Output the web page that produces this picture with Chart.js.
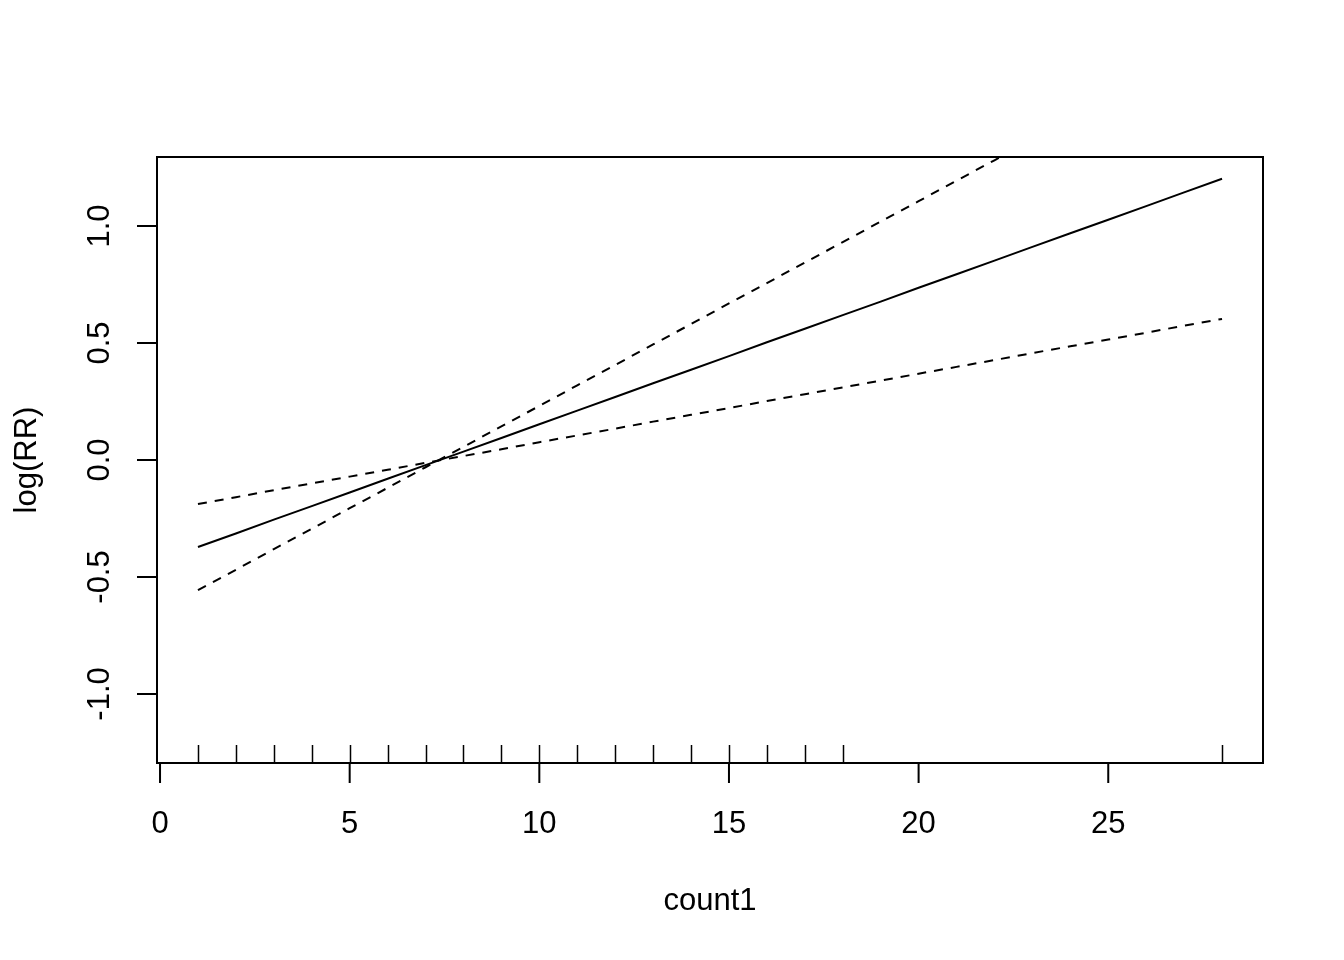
<!DOCTYPE html>
<html>
<head>
<meta charset="utf-8">
<title>log(RR) vs count1</title>
<script src="https://cdn.jsdelivr.net/npm/chart.js@4/dist/chart.umd.min.js"></script>
<style>
    html, body { margin: 0; padding: 0; background: #fff; }
    canvas { display: block; }
</style>
</head>
<body>
<canvas id="rr-chart" width="1344" height="960"></canvas>
<script>
// values
const count1 = [1, 2, 3, 4, 5, 6, 7, 8, 9, 10, 11, 12, 13, 14, 15, 16, 17, 18, 19, 20, 21, 22, 23, 24, 25, 26, 27, 28];
const logRR = [-0.372, -0.314, -0.255, -0.197, -0.139, -0.080, -0.022, 0.036, 0.094, 0.153, 0.211, 0.269, 0.328, 0.386,
    0.444, 0.503, 0.561, 0.619, 0.677, 0.736, 0.794, 0.852, 0.911, 0.969, 1.027, 1.085, 1.144, 1.202];
const upperCI = [-0.556, -0.469, -0.381, -0.294, -0.206, -0.119, -0.031, 0.056, 0.144, 0.231, 0.319, 0.406, 0.494, 0.581,
    0.669, 0.756, 0.844, 0.931, 1.019, 1.106, 1.194, 1.281, 1.369, 1.456, 1.544, 1.631, 1.719, 1.806];
const lowerCI = [-0.188, -0.159, -0.129, -0.100, -0.071, -0.042, -0.012, 0.017, 0.046, 0.076, 0.105, 0.134, 0.164, 0.193,
    0.222, 0.252, 0.281, 0.310, 0.339, 0.369, 0.398, 0.427, 0.457, 0.486, 0.515, 0.544, 0.574, 0.603];
// observed values shown as rug marks
const rugValues = [1, 2, 3, 4, 5, 6, 7, 8, 9, 10, 11, 12, 13, 14, 15, 16, 17, 18, 28];
const xTicks = [0, 5, 10, 15, 20, 25];
const yTicks = [-1.0, -0.5, 0.0, 0.5, 1.0];

const FONT = '31px "Liberation Sans", Arial, sans-serif';

function toPoints(ys) {
    return count1.map((x, i) => ({ x: x, y: ys[i] }));
}

// R-style box, axes, rug and titles
const baseAxes = {
    id: 'baseAxes',
    afterDraw(chart) {
        const ctx = chart.ctx;
        const area = chart.chartArea;
        const xs = chart.scales.x;
        const ys = chart.scales.y;

        ctx.save();
        ctx.strokeStyle = '#000';
        ctx.fillStyle = '#000';
        ctx.lineWidth = 2;
        ctx.strokeRect(area.left, area.top, area.right - area.left, area.bottom - area.top);

        // x axis
        ctx.beginPath();
        ctx.moveTo(xs.getPixelForValue(xTicks[0]), area.bottom);
        ctx.lineTo(xs.getPixelForValue(xTicks[xTicks.length - 1]), area.bottom);
        xTicks.forEach(v => {
            const px = xs.getPixelForValue(v);
            ctx.moveTo(px, area.bottom);
            ctx.lineTo(px, area.bottom + 20);
        });
        ctx.stroke();

        ctx.font = FONT;
        ctx.textAlign = 'center';
        ctx.textBaseline = 'middle';
        xTicks.forEach(v => {
            ctx.fillText(String(v), xs.getPixelForValue(v), area.bottom + 61);
        });

        // y axis
        ctx.beginPath();
        ctx.moveTo(area.left, ys.getPixelForValue(yTicks[0]));
        ctx.lineTo(area.left, ys.getPixelForValue(yTicks[yTicks.length - 1]));
        yTicks.forEach(v => {
            const py = ys.getPixelForValue(v);
            ctx.moveTo(area.left, py);
            ctx.lineTo(area.left - 20, py);
        });
        ctx.stroke();

        yTicks.forEach(v => {
            ctx.save();
            ctx.translate(area.left - 57, ys.getPixelForValue(v));
            ctx.rotate(-Math.PI / 2);
            ctx.fillText(v.toFixed(1), 0, 0);
            ctx.restore();
        });

        // rug
        ctx.lineWidth = 1.5;
        ctx.beginPath();
        rugValues.forEach(v => {
            const px = Math.round(xs.getPixelForValue(v)) + 0.5;
            ctx.moveTo(px, area.bottom);
            ctx.lineTo(px, area.bottom - 18);
        });
        ctx.stroke();

        // axis titles
        ctx.fillText('count1', (area.left + area.right) / 2, area.bottom + 138);
        ctx.save();
        ctx.translate(area.left - 130, (area.top + area.bottom) / 2);
        ctx.rotate(-Math.PI / 2);
        ctx.fillText('log(RR)', 0, 0);
        ctx.restore();

        ctx.restore();
    }
};

const ctx = document.getElementById('rr-chart').getContext('2d');

new Chart(ctx, {
    type: 'line',
    data: {
        datasets: [
            {
                label: 'log(RR)',
                data: toPoints(logRR),
                borderColor: '#000',
                borderWidth: 2,
                pointRadius: 0,
                tension: 0,
                fill: false
            },
            {
                label: 'upper',
                data: toPoints(upperCI),
                borderColor: '#000',
                borderWidth: 2,
                borderDash: [9, 8],
                pointRadius: 0,
                tension: 0,
                fill: false
            },
            {
                label: 'lower',
                data: toPoints(lowerCI),
                borderColor: '#000',
                borderWidth: 2,
                borderDash: [9, 8],
                pointRadius: 0,
                tension: 0,
                fill: false
            }
        ]
    },
    options: {
        responsive: false,
        maintainAspectRatio: false,
        animation: false,
        layout: {
            padding: { left: 157, top: 157, right: 81, bottom: 197 }
        },
        scales: {
            x: {
                type: 'linear',
                min: -0.08,
                max: 29.08,
                display: false
            },
            y: {
                type: 'linear',
                min: -1.295,
                max: 1.295,
                display: false
            }
        },
        plugins: {
            legend: { display: false },
            tooltip: { enabled: false }
        }
    },
    plugins: [baseAxes]
});
</script>
</body>
</html>
